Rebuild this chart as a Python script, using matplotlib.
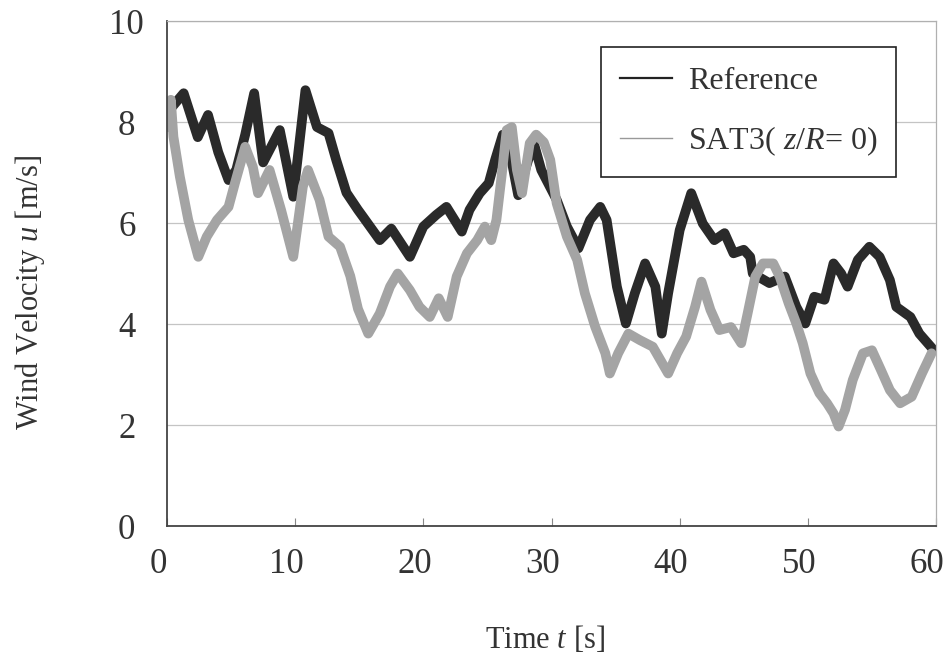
import matplotlib
matplotlib.use('Agg')
import matplotlib.pyplot as plt
import matplotlib.transforms as mtransforms
from matplotlib.lines import Line2D

plt.rcParams['font.family'] = ['Liberation Serif', 'DejaVu Serif']
plt.rcParams['mathtext.fontset'] = 'custom'
plt.rcParams['mathtext.rm'] = 'Liberation Serif'
plt.rcParams['mathtext.it'] = 'Liberation Serif:italic'

# Reference wind velocity
ref_t = [0.4, 1.3, 2.4, 3.2, 4.0, 4.8, 5.4, 6.1, 6.8, 7.5, 8.8, 9.85, 10.8, 11.7,
         12.6, 13.2, 14.0, 14.9, 15.3, 16.6, 17.5, 18.95, 20.0, 21.0, 21.8, 23.0,
         23.6, 24.4, 25.1, 25.6, 26.2, 26.8, 27.4, 28.0, 28.6, 29.2, 30.4, 31.2,
         32.1, 33.0, 33.8, 34.3, 35.1, 35.8, 36.5, 37.3, 38.1, 38.6, 39.1, 40.0,
         40.9, 41.8, 42.7, 43.5, 44.2, 45.0, 45.5, 45.7, 47.0, 48.2, 49.1, 49.8,
         50.5, 51.3, 52.0, 52.6, 53.1, 53.9, 54.8, 55.6, 56.4, 56.9, 58.0, 58.7, 59.8]
ref_u = [8.3, 8.57, 7.7, 8.14, 7.4, 6.85, 7.05, 7.75, 8.57, 7.2, 7.84, 6.52, 8.63, 7.9,
         7.78, 7.25, 6.6, 6.26, 6.12, 5.66, 5.89, 5.33, 5.93, 6.16, 6.32, 5.83,
         6.26, 6.59, 6.79, 7.25, 7.75, 7.35, 6.55, 7.1, 7.6, 7.05, 6.46, 5.93,
         5.5, 6.06, 6.32, 6.06, 4.74, 4.01, 4.61, 5.2, 4.74, 3.81, 4.61, 5.86,
         6.59, 5.99, 5.66, 5.8, 5.4, 5.47, 5.33, 5.0, 4.81, 4.94, 4.34, 4.01,
         4.54, 4.48, 5.2, 5.0, 4.74, 5.27, 5.53, 5.33, 4.87, 4.34, 4.14, 3.81, 3.49]

# SAT3 (z/R = 0)
sat_t = [0.0, 0.3, 0.5, 1.0, 1.66, 2.44, 3.1, 3.9, 4.8, 5.3, 6.1, 6.7, 7.1, 8.0, 8.9,
         9.85, 10.6, 11.0, 11.9, 12.6, 13.5, 14.3, 14.9, 15.7, 16.6, 17.4, 18.0,
         18.95, 19.7, 20.5, 21.2, 21.9, 22.6, 23.4, 24.2, 24.8, 25.3, 25.7, 26.1,
         26.5, 26.9, 27.3, 27.7, 28.3, 28.8, 29.4, 29.9, 30.4, 31.2, 32.0, 32.6,
         33.4, 34.2, 34.55, 35.2, 36.0, 36.9, 37.9, 39.1, 39.8, 40.5, 41.2, 41.7,
         42.4, 43.1, 44.0, 44.8, 45.3, 45.9, 46.5, 47.3, 47.8, 48.5, 49.1, 49.6,
         50.2, 50.9, 51.5, 52.0, 52.4, 52.9, 53.5, 54.3, 55.0, 55.7, 56.4, 57.2,
         58.1, 58.9, 59.65]
sat_u = [7.9, 8.44, 7.71, 6.92, 6.06, 5.33, 5.73, 6.06, 6.32, 6.79, 7.51, 7.11, 6.59, 7.05, 6.26,
         5.33, 6.72, 7.05, 6.46, 5.73, 5.53, 4.95, 4.3, 3.81, 4.21, 4.74, 5.0,
         4.67, 4.34, 4.14, 4.51, 4.14, 4.94, 5.4, 5.66, 5.93, 5.66, 6.06, 6.92,
         7.84, 7.9, 7.05, 6.59, 7.58, 7.75, 7.6, 7.25, 6.39, 5.73, 5.27, 4.61,
         3.95, 3.42, 3.02, 3.42, 3.81, 3.68, 3.55, 3.02, 3.42, 3.75, 4.34, 4.84,
         4.28, 3.88, 3.94, 3.62, 4.21, 4.94, 5.2, 5.2, 4.94, 4.41, 4.01, 3.62,
         3.02, 2.63, 2.43, 2.23, 1.97, 2.30, 2.89, 3.42, 3.48, 3.09, 2.69, 2.43,
         2.56, 3.02, 3.42]

fig = plt.figure(figsize=(9.5, 6.65), dpi=100)
ax = fig.add_axes([0.1758, 0.209, 0.8095, 0.7594])

ax.plot(ref_t, ref_u, color='#2a2a2a', lw=7, solid_joinstyle='round', solid_capstyle='round')
ax.plot(sat_t, sat_u, color='#a4a4a4', lw=7, solid_joinstyle='round', solid_capstyle='round')

ax.set_xlim(0, 60)
ax.set_ylim(0, 10)
ax.set_xticks(range(0, 61, 10))
ax.set_yticks(range(0, 11, 2))
ax.yaxis.grid(True, color='#c4c4c4', lw=0.9)
ax.set_axisbelow(True)

ax.tick_params(axis='x', direction='in', length=6, width=0.8, color='#888888',
               labelsize=25, pad=16, labelcolor='#333333')
ax.tick_params(axis='y', length=0, labelsize=25, pad=29, labelcolor='#333333')
for lab in ax.get_yticklabels():
    lab.set_horizontalalignment('center')
# x tick labels sit a little left of their ticks in the original
shift = mtransforms.ScaledTranslation(-9 / 100, 0, fig.dpi_scale_trans)
for lab in ax.get_xticklabels():
    lab.set_transform(lab.get_transform() + shift)

for side in ['left', 'bottom']:
    ax.spines[side].set_color('#444444')
    ax.spines[side].set_linewidth(1.3)
for side in ['top', 'right']:
    ax.spines[side].set_color('#b0b0b0')
    ax.spines[side].set_linewidth(0.9)

fig.text(0.574, 0.038, 'Time $t$ [s]', fontsize=22, color='#333333',
         ha='center', va='center')
fig.text(0.032, 0.56, 'Wind Velocity $u$ [m/s]', fontsize=22, color='#333333',
         ha='center', va='center', rotation=90)

handles = [Line2D([], [], color='#222222', lw=1.6),
           Line2D([], [], color='#999999', lw=1.0)]
leg = ax.legend(handles, ['Reference', 'SAT3( $z$/$R$= 0)'],
                loc='upper right', bbox_to_anchor=(0.948, 0.948), borderaxespad=0,
                fontsize=23, frameon=True, fancybox=False, framealpha=1,
                edgecolor='#222222', handlelength=1.6, handletextpad=0.5,
                labelspacing=0.9, borderpad=0.6)
leg.get_frame().set_linewidth(1.2)
for txt in leg.get_texts():
    txt.set_color('#333333')

fig.savefig('out.png', dpi=100)
